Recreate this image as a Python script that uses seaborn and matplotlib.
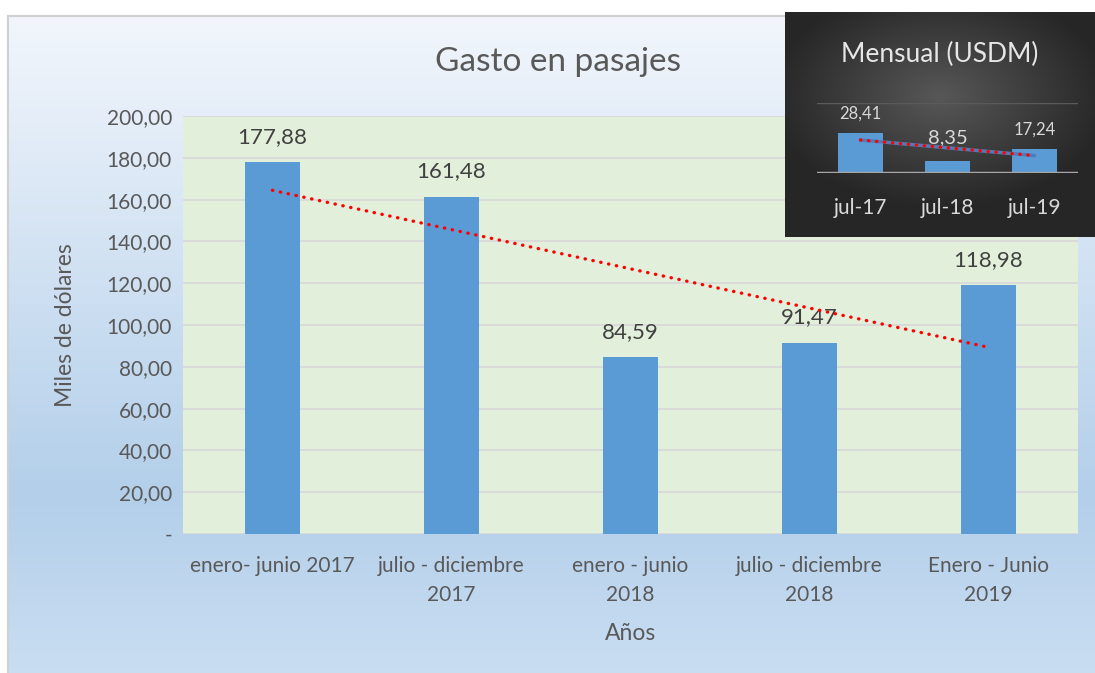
import numpy as np
import matplotlib.pyplot as plt
import seaborn as sns
from matplotlib.colors import LinearSegmentedColormap

# datos del gráfico principal (miles de dólares)
periodos = ["enero- junio 2017", "julio - diciembre\n2017", "enero - junio\n2018",
            "julio - diciembre\n2018", "Enero - Junio\n2019"]
gasto = [177.88, 161.48, 84.59, 91.47, 118.98]
y_ticks = [0, 20, 40, 60, 80, 100, 120, 140, 160, 180, 200]

# datos del recuadro mensual (USDM)
meses = ["jul-17", "jul-18", "jul-19"]
mensual = [28.41, 8.35, 17.24]


def coma(v):
    return f"{v:.2f}".replace(".", ",")


sns.set_theme(style="white")
plt.rcParams['font.family'] = ['Lato', 'DejaVu Sans']

W, H = 1095, 673
fig = plt.figure(figsize=(W / 100, H / 100), dpi=100)


def caja(x0, y0, x1, y1):
    # pixeles -> coordenadas de figura
    return [x0 / W, 1 - y1 / H, (x1 - x0) / W, (y1 - y0) / H]


# fondo con degradado
bg = fig.add_axes(caja(8, 16, 1100, 680), zorder=0)
fondo = LinearSegmentedColormap.from_list(
    "fondo", [(0, "#f2f6fc"), (0.72, "#b3cfea"), (1, "#cadef2")])
bg.imshow(np.linspace(0, 1, 256).reshape(-1, 1), aspect='auto', cmap=fondo, extent=[0, 1, 0, 1])
bg.set_xticks([])
bg.set_yticks([])
for s in ["right", "bottom"]:
    bg.spines[s].set_visible(False)
for s in ["left", "top"]:
    bg.spines[s].set_color("#d0d0d0")
    bg.spines[s].set_linewidth(1.5)

# grafico principal
ax = fig.add_axes(caja(183, 116, 1078, 534), zorder=1)
ax.set_facecolor("#e2efda")
sns.barplot(x=periodos, y=gasto, color="#5b9bd5", saturation=1, width=0.31, linewidth=0,
            ax=ax, zorder=3)
ax.bar_label(ax.containers[0], labels=[coma(v) for v in gasto], padding=11,
             fontsize=16, color="#404040")

xs = np.arange(len(gasto))
coef = np.polyfit(xs, gasto, 1)
ax.plot(xs, np.polyval(coef, xs), color="red", lw=2.4, ls=(0, (0.1, 2.3)),
        dash_capstyle="round", zorder=4)

ax.set_ylim(0, 200)
ax.set_xlim(-0.5, 4.5)
ax.set_yticks(y_ticks)
ax.set_yticklabels(["-"] + [coma(v) for v in y_ticks[1:]])
ax.yaxis.grid(True, color="#d9d9d9", lw=1.3)
ax.set_axisbelow(True)
for s in ax.spines.values():
    s.set_visible(False)
ax.tick_params(axis="y", length=0, pad=8, labelsize=15, labelcolor="#595959")
ax.tick_params(axis="x", length=0, pad=16, labelsize=15, labelcolor="#595959")
for t in ax.get_xticklabels():
    t.set_linespacing(1.55)
ax.set_ylabel("Miles de dólares", fontsize=16.5, color="#595959")
ax.yaxis.set_label_coords(-0.12, 0.5)
ax.set_xlabel("Años", fontsize=16.5, color="#595959")
ax.xaxis.set_label_coords(0.5, -0.213)

fig.text(558 / W, 1 - 62 / H, "Gasto en pasajes", ha="center", va="center",
         fontsize=24, color="#595959")

# recuadro oscuro
pan = fig.add_axes(caja(785, 12, 1095, 237), zorder=5)
gx, gy = np.meshgrid(np.linspace(-1, 1, 200), np.linspace(-1, 1, 150))
radial = np.clip(np.sqrt((gx * 0.9) ** 2 + ((gy + 0.25) * 1.0) ** 2), 0, 1)
oscuro = LinearSegmentedColormap.from_list("oscuro", ["#575757", "#262626"])
pan.imshow(radial, aspect="auto", cmap=oscuro, extent=[0, 1, 0, 1])
pan.set_xticks([])
pan.set_yticks([])
for s in pan.spines.values():
    s.set_visible(False)
pan.text(0.5, 1 - 42 / 225, "Mensual (USDM)", transform=pan.transAxes, ha="center",
         va="center", fontsize=19, color="#e6e6e6")

ins = fig.add_axes(caja(817, 103, 1078, 173), zorder=6)
ins.patch.set_alpha(0)
sns.barplot(x=meses, y=mensual, color="#5b9bd5", saturation=1, width=0.52, linewidth=0,
            ax=ins, zorder=3)
etiquetas = ins.bar_label(ins.containers[0], labels=[coma(v) for v in mensual], padding=8,
                          fontsize=12, color="#d9d9d9")
etiquetas[1].set_fontsize(14.5)
etiquetas[1].xyann = (0, 11)
mx = np.arange(len(mensual))
mcoef = np.polyfit(mx, mensual, 1)
ins.plot(mx, np.polyval(mcoef, mx), color="#4a7ebb", lw=2.5, zorder=4)
ins.plot(mx, np.polyval(mcoef, mx), color="red", lw=2.4, ls=(0, (0.1, 2.3)),
         dash_capstyle="round", zorder=5)
ins.set_ylim(0, 50)
ins.set_xlim(-0.5, 2.5)
ins.set_yticks([50])
ins.yaxis.grid(True, color="#5a5a5a", lw=1)
ins.axhline(0, color="#a6a6a6", lw=2.5, zorder=6)
for s in ins.spines.values():
    s.set_visible(False)
ins.set_yticklabels([])
ins.tick_params(axis="y", length=0)
ins.tick_params(axis="x", length=0, pad=18, labelsize=15, labelcolor="#d9d9d9")
ins.set_xlabel("")
ins.set_ylabel("")

fig.savefig("out.png", dpi=100)
